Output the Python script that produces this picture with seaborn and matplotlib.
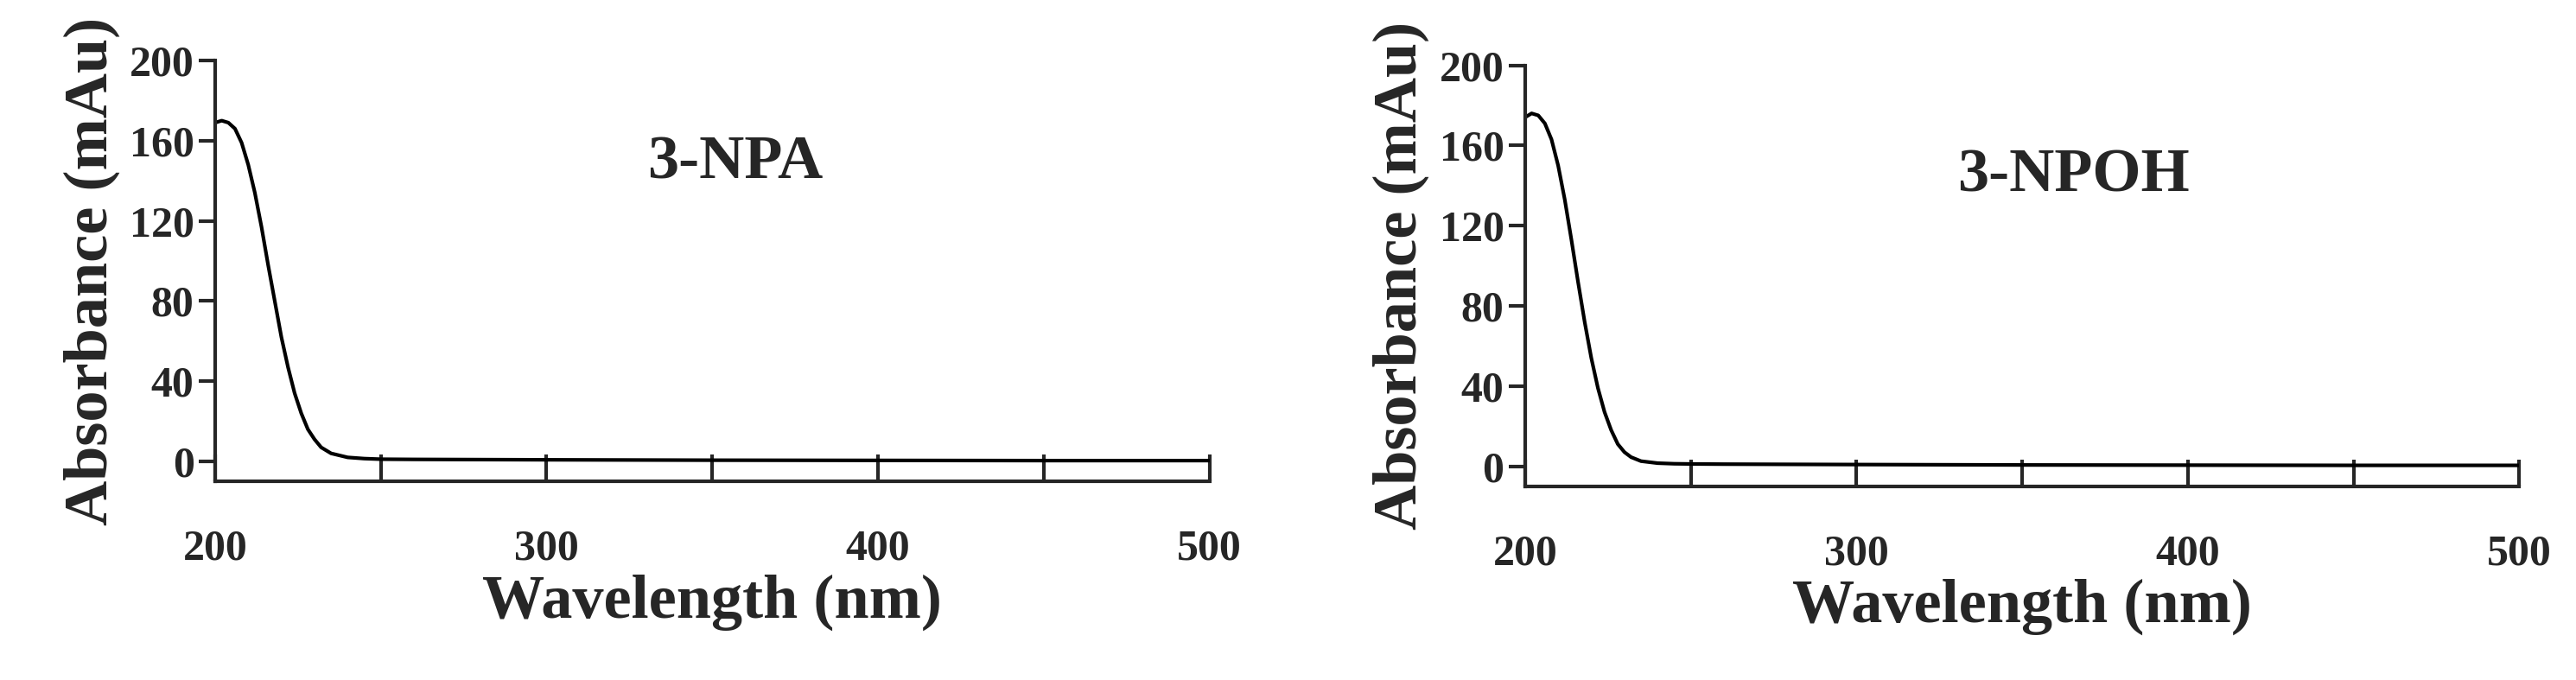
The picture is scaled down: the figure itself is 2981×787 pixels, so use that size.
import matplotlib
matplotlib.use("Agg")
import matplotlib.pyplot as plt
import seaborn as sns
import pandas as pd

wl = [200, 202, 204, 206, 208, 210, 212, 214, 216, 218, 220, 222, 224, 226, 228, 230, 232, 235, 240, 245, 250, 260, 300, 350, 400, 450, 500]
npa = [169, 170, 169, 166, 159, 148, 134, 117, 98, 80, 62, 47, 34, 24, 16, 11, 7, 4, 2, 1.4, 1.1, 1.0, 0.8, 0.6, 0.5, 0.4, 0.4]
npoh = [174, 176, 175, 171, 163, 150, 133, 113, 92, 72, 54, 39, 27, 18, 11, 7, 4.5, 2.5, 1.5, 1.2, 1.1, 1.0, 0.8, 0.6, 0.5, 0.4, 0.4]
labels = ["3-NPA", "3-NPOH"]
label_pos = [(0.435, 0.72), (0.435, 0.70)]

sns.set_style("ticks")
plt.rcParams['font.family'] = ['Liberation Serif', 'DejaVu Serif']
plt.rcParams['font.weight'] = 'bold'

fig = plt.figure(figsize=(29.81, 7.87), dpi=100)
boxes = [[0.0835, 0.292, 0.386, 0.619], [0.592, 0.285, 0.386, 0.619]]
for box, ys, lab, lp in zip(boxes, [npa, npoh], labels, label_pos):
    ax = fig.add_axes(box)
    df = pd.DataFrame({"x": wl, "y": ys})
    sns.lineplot(data=df, x="x", y="y", ax=ax, color="black", lw=3)
    ax.set_xlim(200, 500)
    ax.set_ylim(-10, 200)
    ax.set_xticks([200, 300, 400, 500])
    ax.set_xticks([250, 350, 450], minor=True)
    ax.set_yticks([0, 40, 80, 120, 160, 200])
    ax.tick_params(axis='x', which='both', direction='in', length=22, width=3, labelsize=36, pad=40)
    ax.tick_params(axis='y', direction='out', length=14, width=3, labelsize=36)
    for t in ax.get_xticklabels() + ax.get_yticklabels():
        t.set_fontweight('bold')
    sns.despine(ax=ax)
    for s in ["left", "bottom"]:
        ax.spines[s].set_linewidth(3)
    ax.set_xlabel("Wavelength (nm)", fontsize=52, fontweight='bold', labelpad=4)
    ax.set_ylabel("Absorbance (mAu)", fontsize=52, fontweight='bold', labelpad=8)
    ax.text(lp[0], lp[1], lab, transform=ax.transAxes, fontsize=52, fontweight='bold')
fig.savefig("out.png", dpi=100)
